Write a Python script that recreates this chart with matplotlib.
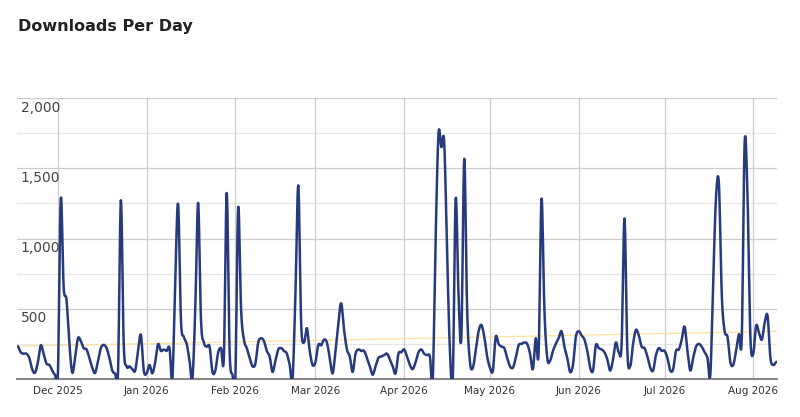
import numpy as np
import pandas as pd
import matplotlib.pyplot as plt
import matplotlib.dates as mdates

start_date = "2025-11-17"
downloads = [
    232, 190, 180, 180, 150, 70, 45, 120, 240, 180, 110, 100, 60, 30, 40,
    1284, 657, 563, 250, 45, 150, 290, 270, 220, 210, 150, 80, 43, 130,
    220, 243, 220, 150, 60, 40, 40, 1272, 250, 90, 90, 70, 60, 200,
    314, 60, 40, 100, 40, 120, 248, 200, 210, 200, 220, 0, 700, 1248,
    420, 300, 250, 130, 0, 500, 1253, 420, 260, 230, 230, 50, 60, 190,
    220, 160, 1324, 200, 30, 0, 1225, 500, 280, 220, 150, 90, 110, 260,
    290, 270, 200, 160, 50, 130, 210, 220, 200, 180, 100, 0, 600, 1378,
    400, 260, 362, 200, 100, 120, 243, 240, 280, 260, 150, 40, 200,
    400, 539, 350, 210, 160, 50, 180, 210, 200, 200, 150, 90, 30, 90, 150, 160, 170, 180, 140, 90, 40,
    180, 190, 210, 160, 100, 70, 120, 190, 210, 180, 170, 160, 0, 1000, 1745, 1650, 1685, 900, 200, 0,
    1284, 600, 300, 1567, 500, 120, 80, 200, 338, 385, 300, 160, 80, 60, 300, 250, 230, 220, 150, 90,
    80, 150, 240, 250, 260, 250, 180, 70, 290, 190, 1284, 500, 150, 130, 200, 250, 290, 340, 230, 150,
    50, 100, 300, 340, 310, 280, 200, 80, 60, 240, 220, 210, 190, 140, 60, 140, 260, 190, 250, 1142,
    200, 90, 250, 350, 310, 230, 220, 160, 80, 60, 170, 220, 200, 200, 150, 60, 70, 200, 210, 280,
    373, 200, 60, 150, 230, 250, 230, 190, 150, 30, 700, 1300, 1390, 600, 340, 300, 120, 100, 200,
    320, 300, 1685, 1300, 300, 180, 380, 330, 280, 400, 450, 150, 100, 120,
]
month_ticks = ["2025-12-01", "2026-01-01", "2026-02-01", "2026-03-01", "2026-04-01",
               "2026-05-01", "2026-06-01", "2026-07-01", "2026-08-01"]
month_labels = ["Dec 2025", "Jan 2026", "Feb 2026", "Mar 2026", "Apr 2026",
                "May 2026", "Jun 2026", "Jul 2026", "Aug 2026"]

dates = pd.date_range(start_date, periods=len(downloads), freq="D")
y = np.array(downloads, dtype=float)
xnum = mdates.date2num(dates)

# smooth the drawn curve (Catmull-Rom between daily points)
fine_x, fine_y = [], []
ext = np.concatenate([[y[0]], y, [y[-1]]])
for i in range(len(y) - 1):
    p0, p1, p2, p3 = ext[i], ext[i + 1], ext[i + 2], ext[i + 3]
    t = np.linspace(0, 1, 8, endpoint=False)
    v = 0.5 * (2 * p1 + (-p0 + p2) * t + (2 * p0 - 5 * p1 + 4 * p2 - p3) * t**2
               + (-p0 + 3 * p1 - 3 * p2 + p3) * t**3)
    fine_x.extend(xnum[i] + t)
    fine_y.extend(v)
fine_x.append(xnum[-1]); fine_y.append(y[-1])
fine_y = np.clip(fine_y, 0, None)

fig = plt.figure(figsize=(8, 4.17), dpi=100)
ax = fig.add_axes([17 / 800, 1 - 379 / 417, 760 / 800, 281 / 417])
ax.plot(fine_x, fine_y, color="#273a7e", lw=1.8, zorder=3)

coef = np.polyfit(xnum, y, 1)
ax.plot(xnum, np.polyval(coef, xnum), color="#fde3a0", lw=0.9, zorder=2)

ax.set_ylim(0, 2000)
ax.set_xlim(xnum[0] - 0.3, xnum[-1] + 0.3)
for v in range(250, 2001, 250):
    ax.axhline(v, color="#cccccc" if v % 500 == 0 else "#e6e6e6", lw=0.9, zorder=1)
    if v % 500 == 0:
        ax.text(xnum[0] + 1, v - 18, f"{v:,}", fontsize=10, color="#444444",
                ha="left", va="top")
tick_nums = mdates.date2num(pd.to_datetime(month_ticks))
for t in tick_nums:
    ax.axvline(t, color="#cccccc", lw=0.9, zorder=1)
ax.set_xticks(tick_nums)
ax.set_xticklabels(month_labels, fontsize=7.5, color="#333333")
ax.tick_params(axis="x", length=0, pad=5)
ax.set_yticks([])
for s in ["top", "right", "left"]:
    ax.spines[s].set_visible(False)
ax.spines["bottom"].set_color("#888888")
ax.spines["bottom"].set_linewidth(1.5)

fig.text(18 / 800, 1 - 27 / 417, "Downloads Per Day", fontsize=11.5, fontweight="bold",
         color="#222222", va="center", ha="left")
fig.savefig("out.png", dpi=100)
